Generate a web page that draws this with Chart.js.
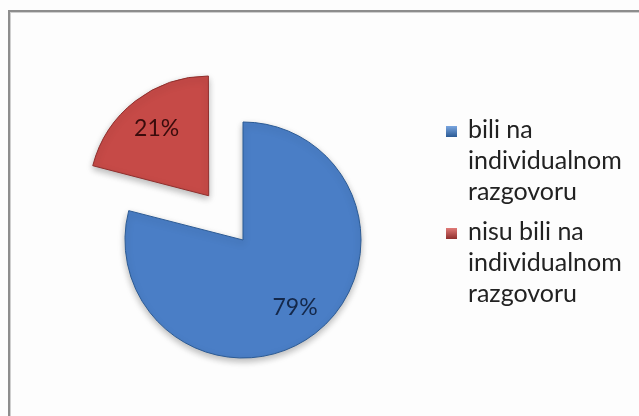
<!DOCTYPE html>
<html>
<head>
<meta charset="utf-8">
<script src="https://cdn.jsdelivr.net/npm/chart.js@4"></script>
<style>
  html, body { margin: 0; padding: 0; background: #fdfdfd; }
  #wrap { position: absolute; left: 0; top: 0; width: 639px; height: 416px; overflow: hidden; }
  #frame { position: absolute; left: 8px; top: 10px; width: 650px; height: 430px;
           border: 2px solid #8d8d8d; box-shadow: inset 1px 1px 0 #cfcfcf; }
  #box { position: absolute; left: 0; top: 0; width: 639px; height: 416px; }
</style>
</head>
<body>
<div id="wrap">
  <div id="frame"></div>
  <div id="box"><canvas id="pieChart"></canvas></div>
</div>
<script>
// chart data
const categories = [
  ['bili na', 'individualnom', 'razgovoru'],
  ['nisu bili na', 'individualnom', 'razgovoru']
];
const values = [79, 21];
const sliceColors = ['#4a7ec6', '#c64a47'];
const edgeColors = ['#2b5a94', '#8f2f2d'];
const labelColors = ['#14284a', '#3a0c0c'];

// percent labels in the slices
const sliceLabels = {
  id: 'sliceLabels',
  afterDatasetsDraw(chart) {
    const ctx = chart.ctx;
    const meta = chart.getDatasetMeta(0);
    const total = values.reduce((a, b) => a + b, 0);
    ctx.save();
    ctx.font = '23px Lato';
    ctx.textAlign = 'center';
    ctx.textBaseline = 'middle';
    meta.data.forEach((arc, i) => {
      const p = arc.getProps(['x', 'y', 'startAngle', 'endAngle', 'outerRadius'], true);
      const mid = (p.startAngle + p.endAngle) / 2;
      // arc element shifts by offset / 4 when drawn
      const r = p.outerRadius * 0.72 + (arc.options.offset || 0) / 4;
      ctx.fillStyle = labelColors[i];
      ctx.fillText(Math.round(values[i] / total * 100) + '%',
        p.x + Math.cos(mid) * r, p.y + Math.sin(mid) * r);
    });
    ctx.restore();
  }
};

// legend on the right, lines wrapped like the original
const sideLegend = {
  id: 'sideLegend',
  afterDraw(chart) {
    const ctx = chart.ctx;
    const x = 446, lineH = 31;
    const tops = [126, 228];
    ctx.save();
    ctx.font = '25px Lato';
    ctx.textBaseline = 'alphabetic';
    categories.forEach((lines, i) => {
      const y0 = tops[i];
      const g = ctx.createLinearGradient(0, y0, 0, y0 + 11);
      g.addColorStop(0, i === 0 ? '#7aa6e0' : '#e07a77');
      g.addColorStop(1, edgeColors[i]);
      ctx.fillStyle = g;
      ctx.fillRect(x, y0, 11, 11);
      ctx.fillStyle = '#222';
      lines.forEach((t, j) => ctx.fillText(t, x + 22, y0 + 12 + j * lineH));
    });
    ctx.restore();
  }
};

// soft shadow under the pie
const pieShadow = {
  id: 'pieShadow',
  beforeDatasetsDraw(chart) {
    const ctx = chart.ctx;
    ctx.save();
    ctx.shadowColor = 'rgba(0,0,0,0.28)';
    ctx.shadowBlur = 7;
    ctx.shadowOffsetY = 3;
  },
  afterDatasetsDraw(chart) {
    chart.ctx.restore();
  }
};

function sliceFill(context) {
  const chart = context.chart;
  const i = context.dataIndex;
  const arc = chart.getDatasetMeta(0).data[i];
  if (!arc || !arc.outerRadius) return sliceColors[i];
  const shift = i === 1 ? 56 : 0;
  const mid = (arc.startAngle + arc.endAngle) / 2;
  const cx = arc.x + Math.cos(mid) * shift, cy = arc.y + Math.sin(mid) * shift;
  const g = chart.ctx.createRadialGradient(cx, cy, 0, cx, cy, arc.outerRadius + 8);
  g.addColorStop(0, sliceColors[i]);
  g.addColorStop(0.86, sliceColors[i]);
  g.addColorStop(1, edgeColors[i]);
  return g;
}

const ctx = document.getElementById('pieChart');
new Chart(ctx, {
  type: 'pie',
  data: {
    labels: categories.map(l => l.join(' ')),
    datasets: [{
      data: values,
      backgroundColor: sliceFill,
      borderColor: edgeColors,
      borderWidth: 1,
      offset: [0, 224],
      radius: 118
    }]
  },
  options: {
    responsive: true,
    maintainAspectRatio: false,
    animation: false,
    layout: { padding: { left: 22, right: 175, top: 80, bottom: 16 } },
    plugins: {
      legend: { display: false },
      tooltip: { enabled: false }
    }
  },
  plugins: [pieShadow, sliceLabels, sideLegend]
});
</script>
</body>
</html>
